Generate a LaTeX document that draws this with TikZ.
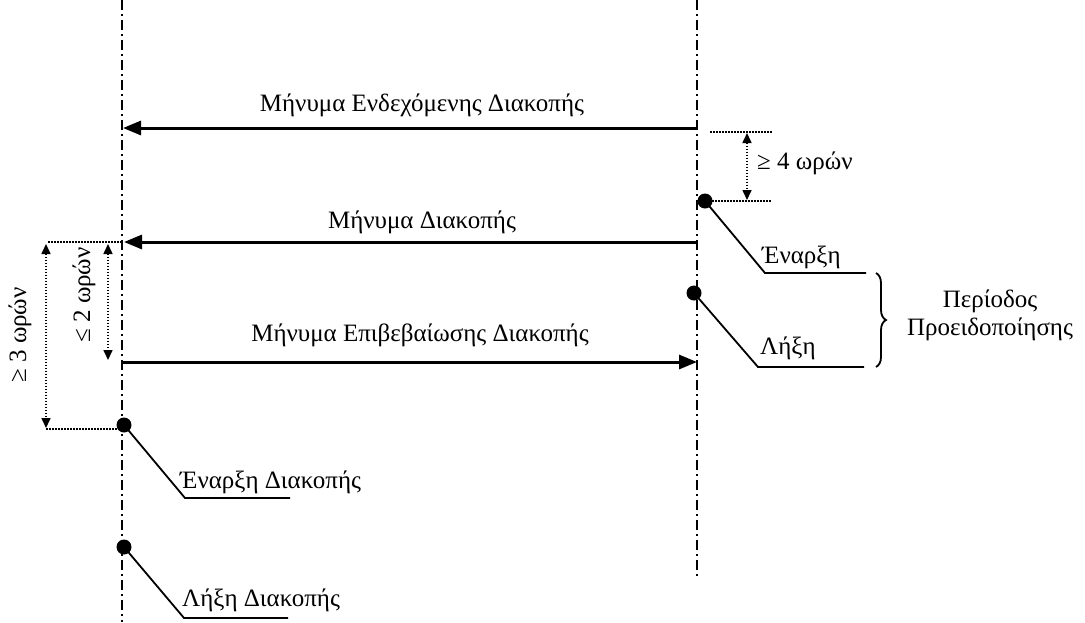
\documentclass[tikz,border=0pt]{standalone}
\usepackage{fontspec}
\setmainfont{Liberation Serif}
\usetikzlibrary{arrows.meta,decorations.pathreplacing}
\begin{document}
\begin{tikzpicture}[x=1pt,y=-1pt,
  life/.style={line width=1.6pt, dash pattern=on 10pt off 4pt on 2pt off 4pt},
  msg/.style={line width=3pt, -{Triangle[length=18pt,width=14pt]}},
  dim/.style={line width=1.6pt, dash pattern=on 1.5pt off 1.5pt},
  dimarr/.style={dim, {Triangle[length=10pt,width=9pt]}-{Triangle[length=10pt,width=9pt]}},
  lbl/.style={font=\fontsize{25}{30}\selectfont, inner sep=0pt},
  lead/.style={line width=1.8pt},
  ev/.style={circle, fill, inner sep=0pt, minimum size=15pt}]
\useasboundingbox (0,0) rectangle (1085,622);
% lifelines
\coordinate (LT) at (122,0); \coordinate (LB) at (122,622);
\coordinate (RT) at (697,0); \coordinate (RB) at (697,578);
\draw[life] (LT) -- (LB);
\draw[life] (RT) -- (RB);
% message 1
\coordinate (m1s) at (697,128); \coordinate (m1e) at (123,128);
\draw[msg] (m1s) -- (m1e);
\node[lbl, anchor=base] (t1) at (422,111) {Μήνυμα Ενδεχόμενης Διακοπής};
% message 2
\coordinate (m2s) at (697,242); \coordinate (m2e) at (124,242);
\draw[msg] (m2s) -- (m2e);
\node[lbl, anchor=base] (t2) at (422,228) {Μήνυμα Διακοπής};
% message 3
\coordinate (m3s) at (122,362); \coordinate (m3e) at (697,362);
\draw[msg] (m3s) -- (m3e);
\node[lbl, anchor=base] (t3) at (420,341) {Μήνυμα Επιβεβαίωσης Διακοπής};
% dimension >= 4
\coordinate (d4a) at (710,132); \coordinate (d4b) at (772,132);
\coordinate (d4c) at (712,201); \coordinate (d4d) at (772,201);
\coordinate (d4t) at (747,133); \coordinate (d4u) at (747,200);
\draw[dim] (d4a) -- (d4b);
\draw[dim] (d4c) -- (d4d);
\draw[dimarr] (d4t) -- (d4u);
\node[lbl, anchor=west] (t4) at (757,163) {≥ 4 ωρών};
% dimension <= 2
\coordinate (d2a) at (48,242); \coordinate (d2b) at (122,242);
\coordinate (d2t) at (108,244); \coordinate (d2u) at (108,360);
\draw[dim] (d2a) -- (d2b);
\draw[dimarr] (d2t) -- (d2u);
\node[lbl, rotate=90] (t5) at (84,295) {≤ 2 ωρών};
% dimension >= 3
\coordinate (d3t) at (46,244); \coordinate (d3u) at (46,428);
\coordinate (d3a) at (46,429); \coordinate (d3b) at (122,429);
\draw[dim] (d3a) -- (d3b);
\draw[dimarr] (d3t) -- (d3u);
\node[lbl, rotate=90] (t6) at (20,335) {≥ 3 ωρών};
% events right
\node[ev] (e1) at (705,201) {};
\coordinate (e1c) at (765,273); \coordinate (e1e) at (866,273);
\draw[lead] (e1.center) -- (e1c) -- (e1e);
\node[lbl, anchor=base west] (t7) at (762,263) {Έναρξη};
\node[ev] (e2) at (694,293) {};
\coordinate (e2c) at (758,367); \coordinate (e2e) at (864,367);
\draw[lead] (e2.center) -- (e2c) -- (e2e);
\node[lbl, anchor=base west] (t8) at (760,354) {Λήξη};
% brace
\coordinate (bt) at (876,273); \coordinate (bb) at (876,367);
\draw[line width=1.8pt, decorate, decoration={brace, amplitude=10pt}] (bt) -- (bb);
\node[lbl, anchor=base] (t9a) at (990,307) {Περίοδος};
\node[lbl, anchor=base] (t9b) at (990,335) {Προειδοποίησης};
% events left
\node[ev] (e3) at (124,425) {};
\coordinate (e3c) at (185,498); \coordinate (e3e) at (290,498);
\draw[lead] (e3.center) -- (e3c) -- (e3e);
\node[lbl, anchor=base west] (t10) at (180,488) {Έναρξη Διακοπής};
\node[ev] (e4) at (124,547) {};
\coordinate (e4c) at (184,618); \coordinate (e4e) at (288,618);
\draw[lead] (e4.center) -- (e4c) -- (e4e);
\node[lbl, anchor=base west] (t11) at (182,606) {Λήξη Διακοπής};
\end{tikzpicture}
\end{document}
